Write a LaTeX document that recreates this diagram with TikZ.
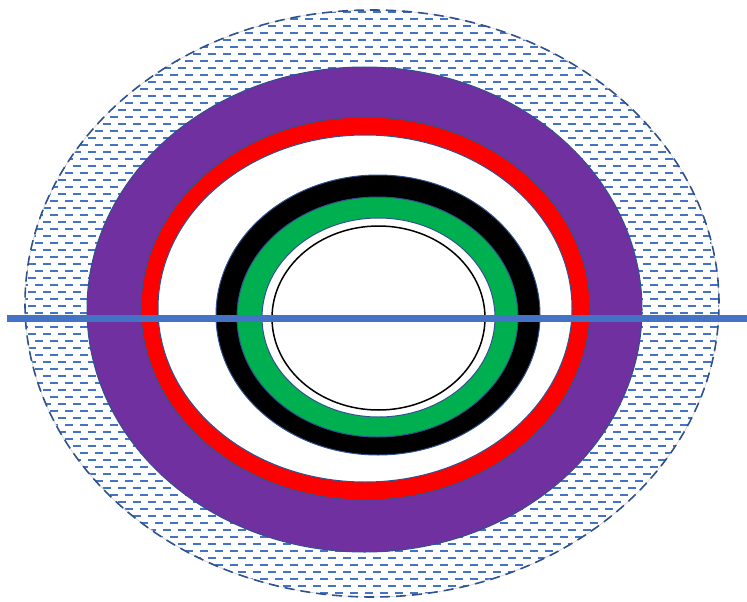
\documentclass[tikz,border=0pt]{standalone}
\usepackage{xcolor}
\definecolor{hatchblue}{HTML}{4472C4}
\definecolor{edgeblue}{HTML}{2F528F}
\definecolor{ringpurple}{HTML}{7030A0}
\definecolor{ringred}{HTML}{FF0000}
\definecolor{ringgreen}{HTML}{00B050}
\tikzset{
  ring/.style={draw=edgeblue, line width=1pt},
  hatchline/.style={hatchblue, line width=1.8pt, dash pattern=on 8pt off 7pt},
}
\begin{document}
\begin{tikzpicture}[x=1pt,y=-1pt]
\useasboundingbox (0,0) rectangle (747,602);
% hatched outer region
\begin{scope}
  \clip (372,303.5) ellipse [x radius=347pt, y radius=293.5pt];
  \foreach \i in {0,...,85} {
    \pgfmathsetmacro{\yy}{5+7*\i}
    \pgfmathsetmacro{\ph}{mod(\i,2)*7.5}
    \draw[hatchline, dash phase=\ph pt] (20,\yy) -- (730,\yy);
  }
\end{scope}
\draw[gray!35, line width=0.6pt] (372,303.5) ellipse [x radius=347pt, y radius=293.5pt];
\draw[edgeblue, line width=1.6pt, dash pattern=on 10pt off 6pt] (372,303.5) ellipse [x radius=347pt, y radius=293.5pt];
% purple ring
\filldraw[ring, fill=ringpurple] (364.5,309.5) ellipse [x radius=277.5pt, y radius=242.5pt];
% red ring
\filldraw[ring, fill=ringred] (365.5,308.5) ellipse [x radius=224.5pt, y radius=191.5pt];
\filldraw[ring, fill=white] (365,308.5) ellipse [x radius=207pt, y radius=173.5pt];
% black ring
\filldraw[ring, fill=black] (378,315) ellipse [x radius=162pt, y radius=140pt];
% green ring
\filldraw[ring, fill=ringgreen] (377.5,317) ellipse [x radius=140.5pt, y radius=120pt];
\filldraw[ring, fill=white] (378.5,317.5) ellipse [x radius=116.5pt, y radius=99.5pt];
% thin inner ellipse
\draw[black, line width=1.5pt] (378.5,318) ellipse [x radius=106.5pt, y radius=92pt];
% horizontal line
\coordinate (lineL) at (7,318.5);
\coordinate (lineR) at (747,318.5);
\draw[hatchblue, line width=7pt] (lineL) -- (lineR);
\end{tikzpicture}
\end{document}
